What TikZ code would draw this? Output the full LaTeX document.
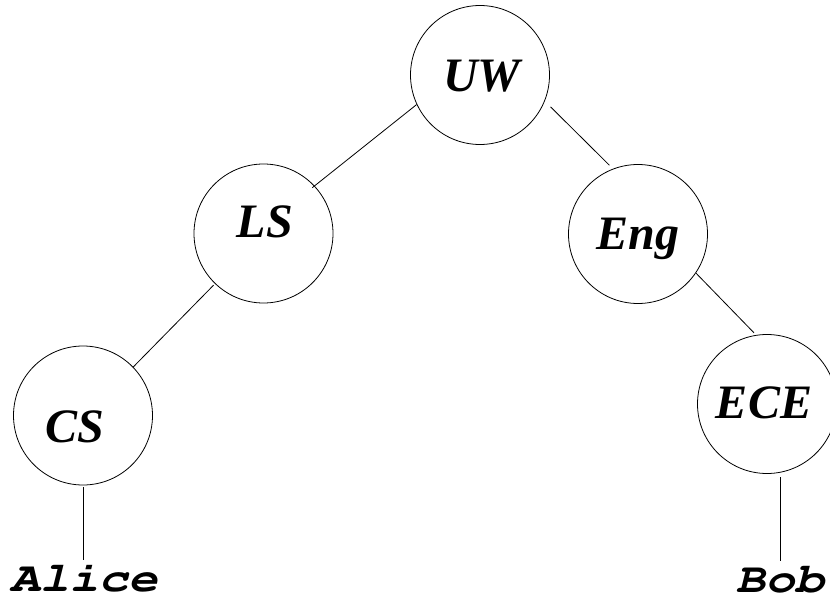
\documentclass[tikz,border=0pt]{standalone}
\usepackage{fontspec}
\setmainfont{Liberation Serif}
\newcommand{\treefont}{\fontsize{48}{50}\selectfont\bfseries\itshape}
\newcommand{\leaffont}{\fontencoding{OT1}\fontfamily{pcr}\fontseries{b}\fontshape{sl}\fontsize{42}{44}\selectfont}
\begin{document}
\begin{tikzpicture}[x=1pt,y=-1pt,
  every path/.style={line width=0.8pt},
  unit/.style={circle,draw,minimum size=139pt,inner sep=0pt},
  unitname/.style={anchor=base,inner sep=0pt,font=\treefont},
  person/.style={anchor=base,inner xsep=0pt,inner ysep=7pt,text height=24pt,text depth=0pt,font=\leaffont},
  edge/.style={draw,line width=0.8pt}]
\useasboundingbox (0,0) rectangle (830,602);

% organisational units
\node[unit] (UW)  at (480,75)    {};
\node[unit] (LS)  at (263.5,233.5) {};
\node[unit] (Eng) at (638,234)   {};
\node[unit] (CS)  at (83,415.5)  {};
\node[unit] (ECE) at (767,404)   {};

\node[unitname] (UWt)  at (482,92)  {UW};
\node[unitname] (LSt)  at (265,237) {LS};
\node[unitname] (Engt) at (638,249) {Eng};
\node[unitname] (CSt)  at (75,442)  {CS};
\node[unitname] (ECEt) at (764,418) {ECE};

% people
\node[person] (Alice) at (84,591) {\scalebox{1.17}[1]{Alice}};
\node[person] (Bob)   at (780,592) {\scalebox{1.17}[1]{Bob}};

% hierarchy links
\path[edge,shorten >=-3pt] (UW.205) -- (LS.43);
\path[edge,shorten <=8pt,shorten >=5pt] (UW.338) -- (Eng.111);
\path[edge,shorten <=2pt] (LS.226) -- (CS.44);
\path[edge,shorten >=3pt] (Eng.326) -- (ECE.99);
\path[edge,shorten <=2pt] (CS.south) -- (CS.south |- Alice.north);
\path[edge,shorten >=3pt] (Bob.north) -- (Bob.north |- ECE.south);
\end{tikzpicture}
\end{document}
